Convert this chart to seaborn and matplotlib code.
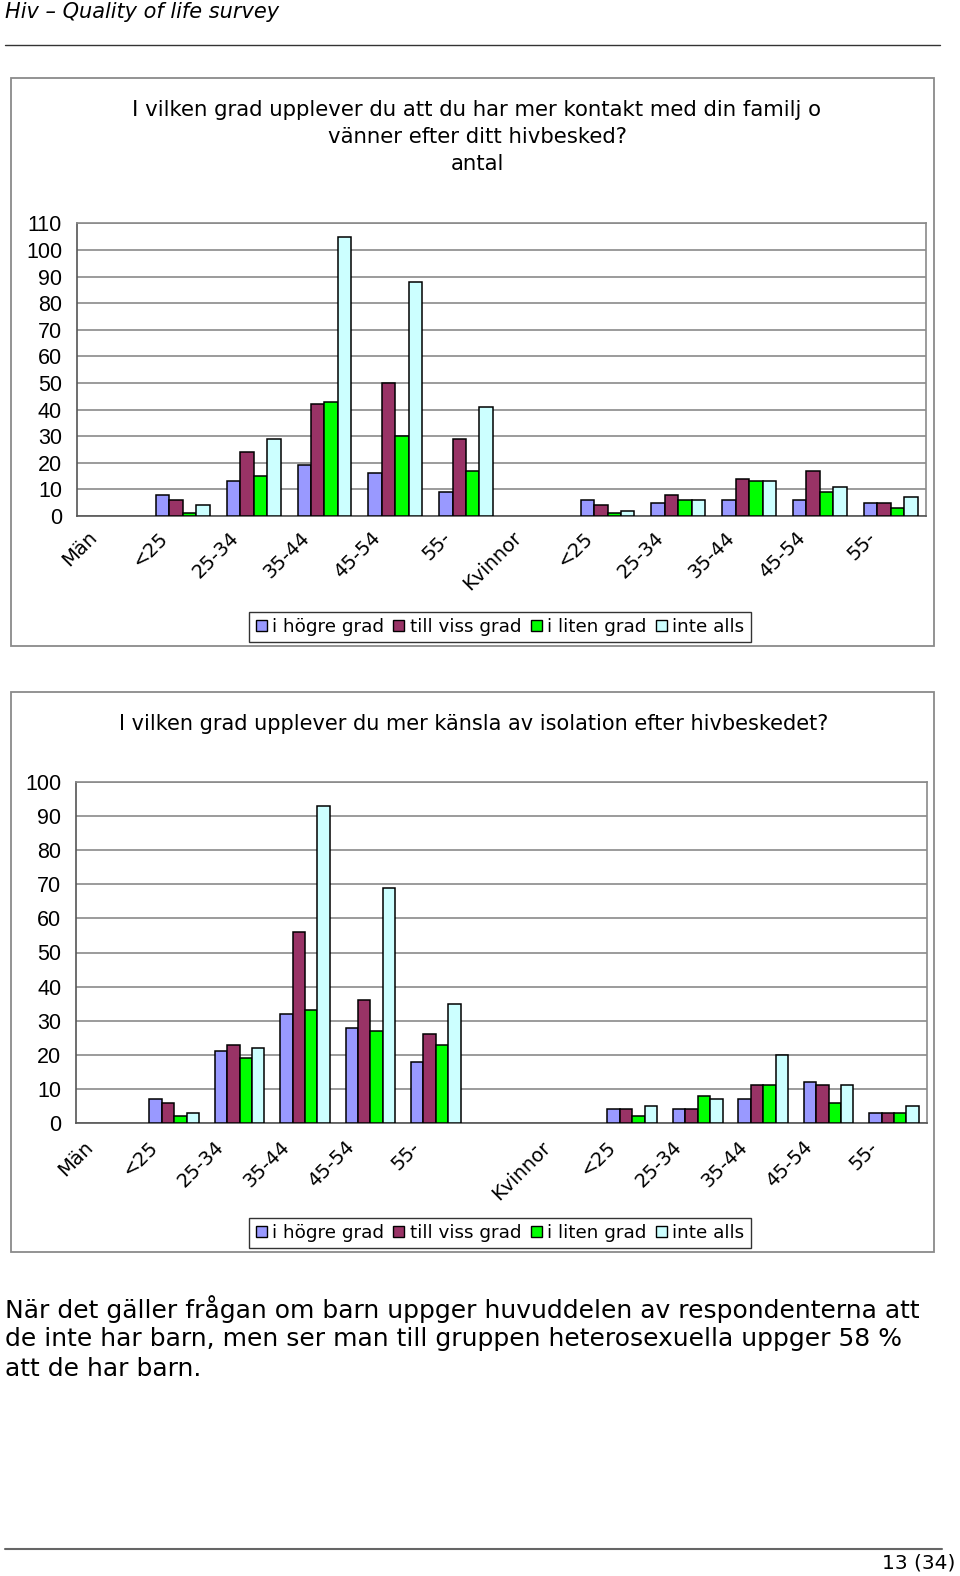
import numpy as np
import pandas as pd
import seaborn as sns
import matplotlib.pyplot as plt
from matplotlib.patches import Rectangle, Patch
from matplotlib.lines import Line2D
from matplotlib.transforms import ScaledTranslation

W, H = 960, 1576

SERIES = ["i högre grad", "till viss grad", "i liten grad", "inte alls"]
COLORS = ["#9999FF", "#993366", "#00FF00", "#CCFFFF"]

# chart 1: mer kontakt med familj / vänner
top_labels = ["Män", "<25", "25-34", "35-44", "45-54", "55-",
              "Kvinnor", "<25", "25-34", "35-44", "45-54", "55-"]
top_hogre = [None, 8, 13, 19, 16, 9, None, 6, 5, 6, 6, 5]
top_viss = [None, 6, 24, 42, 50, 29, None, 4, 8, 14, 17, 5]
top_liten = [None, 1, 15, 43, 30, 17, None, 1, 6, 13, 9, 3]
top_inte = [None, 4, 29, 105, 88, 41, None, 2, 6, 13, 11, 7]

# chart 2: känsla av isolation
bot_labels = ["Män", "<25", "25-34", "35-44", "45-54", "55-", "",
              "Kvinnor", "<25", "25-34", "35-44", "45-54", "55-"]
bot_hogre = [None, 7, 21, 32, 28, 18, None, None, 4, 4, 7, 12, 3]
bot_viss = [None, 6, 23, 56, 36, 26, None, None, 4, 4, 11, 11, 3]
bot_liten = [None, 2, 19, 33, 27, 23, None, None, 2, 8, 11, 6, 3]
bot_inte = [None, 3, 22, 93, 69, 35, None, None, 5, 7, 20, 11, 5]

TOP_TITLE = "I vilken grad upplever du att du har mer kontakt med din familj o\nvänner efter ditt hivbesked?\nantal"
BOT_TITLE = "I vilken grad upplever du mer känsla av isolation efter hivbeskedet?"

BODY = [
    "När det gäller frågan om barn uppger huvuddelen av respondenterna att",
    "de inte har barn, men ser man till gruppen heterosexuella uppger 58 %",
    "att de har barn.",
]


def to_long(labels, series_values):
    rows = []
    for name, vals in zip(SERIES, series_values):
        for i, v in enumerate(vals):
            if v is not None:
                rows.append({"slot": i, "serie": name, "antal": v})
    return pd.DataFrame(rows)


def px_axes(fig, left, top, right, bottom):
    return fig.add_axes([left / W, 1 - bottom / H, (right - left) / W, (bottom - top) / H])


def fig_box(fig, left, top, right, bottom, **kw):
    fig.patches.append(Rectangle((left / W, 1 - bottom / H), (right - left) / W, (bottom - top) / H,
                                 transform=fig.transFigure, fill=False, **kw))


def fig_hline(fig, x0, x1, y, **kw):
    fig.lines.append(Line2D([x0 / W, x1 / W], [1 - y / H, 1 - y / H], transform=fig.transFigure, **kw))


def draw_chart(fig, ax, labels, series_values, ymax, label_pad, dx_px, legend_center):
    df = to_long(labels, series_values)
    n = len(labels)
    sns.barplot(data=df, x="slot", y="antal", hue="serie", order=list(range(n)),
                hue_order=SERIES, palette=COLORS, width=0.76, gap=0,
                edgecolor="black", linewidth=1.1, saturation=1, ax=ax, legend=False, zorder=3)
    ax.set_xlim(-0.5, n - 0.5)
    ax.set_ylim(0, ymax)
    ax.set_yticks(np.arange(0, ymax + 1, 10))
    ax.yaxis.grid(True, color="#8a8a8a", linewidth=1.2, zorder=0)
    ax.xaxis.grid(False)
    ax.set_axisbelow(True)
    ax.set_xlabel("")
    ax.set_ylabel("")
    ax.set_xticks(range(n))
    ax.set_xticklabels(labels, rotation=45, ha="right", fontsize=14, family=["DejaVu Sans"])
    ax.set_xticks(np.arange(-0.5, n, 1.0), minor=True)
    ax.tick_params(axis="x", which="major", length=0, pad=label_pad)
    ax.tick_params(axis="x", which="minor", length=4.5, width=1, color="#555555")
    ax.tick_params(axis="y", length=4.5, width=1, color="#555555", pad=6,
                   labelsize=15.5, labelfontfamily="Liberation Sans")
    off = ScaledTranslation(dx_px / 100, 0, fig.dpi_scale_trans)
    for t in ax.get_xticklabels():
        t.set_transform(t.get_transform() + off)
    for side in ["left", "bottom"]:
        ax.spines[side].set_color("#555555")
        ax.spines[side].set_linewidth(1.2)
    for side in ["top", "right"]:
        ax.spines[side].set_color("#8a8a8a")
        ax.spines[side].set_linewidth(1.2)
        ax.spines[side].set_visible(True)

    handles = [Patch(facecolor=c, edgecolor="black", linewidth=1) for c in COLORS]
    leg = fig.legend(handles, SERIES, loc="center", ncol=4,
                     bbox_to_anchor=(legend_center[0] / W, 1 - legend_center[1] / H),
                     bbox_transform=fig.transFigure, fontsize=13.2, frameon=True,
                     fancybox=False, edgecolor="black", handlelength=0.6, handleheight=0.6,
                     handletextpad=0.3, columnspacing=0.5, borderpad=0.35, borderaxespad=0)
    leg.get_frame().set_linewidth(1.0)


def main():
    sns.set_theme(style="white")
    plt.rcParams["font.family"] = ["DejaVu Sans"]
    plt.rcParams["text.color"] = "black"
    plt.rcParams["xtick.color"] = "black"
    plt.rcParams["ytick.color"] = "black"

    fig = plt.figure(figsize=(W / 100, H / 100), dpi=100)
    fig.patch.set_facecolor("white")

    # page header
    fig.text(5 / W, 1 - 12 / H, "Hiv – Quality of life survey", fontsize=15, style="italic",
             va="center", ha="left")
    fig_hline(fig, 5, 940, 45, color="#333333", linewidth=1.0)

    # chart 1
    fig_box(fig, 11, 78, 934, 646, edgecolor="#8a8a8a", linewidth=1.3)
    for i, line in enumerate(TOP_TITLE.split("\n")):
        fig.text(477 / W, 1 - (110 + 27 * i) / H, line, fontsize=15.3, ha="center", va="center")
    ax1 = px_axes(fig, 76.7, 223.3, 926, 516)
    draw_chart(fig, ax1, top_labels, [top_hogre, top_viss, top_liten, top_inte],
               110, 8.5, -11, (500, 627))

    # chart 2
    fig_box(fig, 11, 692, 934, 1252, edgecolor="#8a8a8a", linewidth=1.3)
    fig.text(474 / W, 1 - 724 / H, BOT_TITLE, fontsize=15, ha="center", va="center")
    ax2 = px_axes(fig, 76, 782, 926.7, 1123)
    draw_chart(fig, ax2, bot_labels, [bot_hogre, bot_viss, bot_liten, bot_inte],
               100, 10.5, -12, (500, 1233))

    # body text
    for i, line in enumerate(BODY):
        fig.text(5 / W, 1 - (1309 + 30 * i) / H, line, fontsize=18, ha="left", va="center")

    # footer
    fig_hline(fig, 5, 942, 1549, color="#666666", linewidth=1.5)
    fig.text(955 / W, 1 - 1563 / H, "13 (34)", fontsize=14.5, ha="right", va="center")

    fig.savefig("out.png", dpi=100, facecolor="white")
    plt.close(fig)


if __name__ == "__main__":
    main()
